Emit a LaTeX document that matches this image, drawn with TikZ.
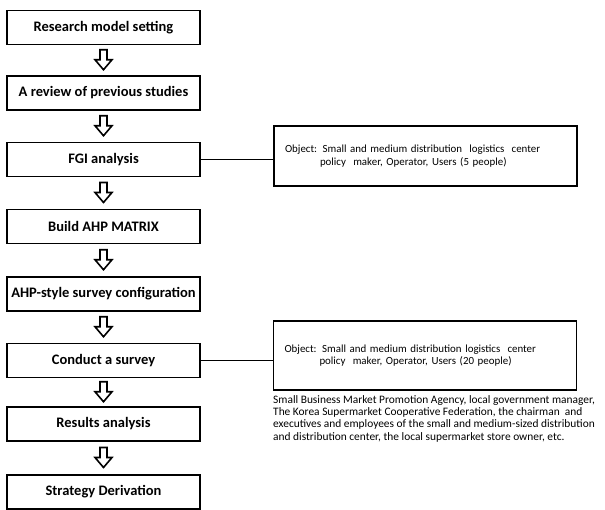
\documentclass[tikz,border=0pt]{standalone}
\usepackage{fontspec}
\setmainfont{Carlito}
\usetikzlibrary{calc}
\tikzset{
  stepbox/.style={draw, line width=1.6pt, minimum width=193pt, minimum height=34pt, inner sep=0pt,
    font=\bfseries\fontsize{14.5}{16}\selectfont},
  objbox/.style={draw, line width=1.4pt, minimum width=303pt, text width=281pt, inner xsep=11pt,
    align=left, font=\fontsize{10.9}{12.5}\selectfont},
  note/.style={align=left, inner sep=0pt, font=\fontsize{11.4}{12.4}\selectfont},
  link/.style={line width=1.2pt},
  hollow/.style={draw, line width=1.6pt, fill=white, line join=miter}
}
\newcommand{\downarrowshape}[2]{%
  \path ($(#1.south)!0.5!(#2.north)$) coordinate (m);
  \draw[hollow] ($(m)+(-3.5,-10.5)$) -- ($(m)+(3.5,-10.5)$) -- ($(m)+(3.5,-0.5)$) -- ($(m)+(8.5,-0.5)$)
     -- ($(m)+(0,9.5)$) -- ($(m)+(-8.5,-0.5)$) -- ($(m)+(-3.5,-0.5)$) -- cycle;
}
\begin{document}
\begin{tikzpicture}[x=1pt,y=-1pt]
\useasboundingbox (0,0) rectangle (605,510);
\node[stepbox] (s1) at (103.5,27.5) {Research model setting};
\node[stepbox] (s2) at (103.5,93) {A review of previous studies};
\node[stepbox] (s3) at (103.5,159.5) {FGI analysis};
\node[stepbox] (s4) at (103.5,226.5) {Build AHP MATRIX};
\node[stepbox] (s5) at (103.5,294) {AHP-style survey configuration};
\node[stepbox] (s6) at (103.5,360.5) {Conduct a survey};
\node[stepbox] (s7) at (103.5,424) {Results analysis};
\node[stepbox] (s8) at (103.5,492) {Strategy Derivation};

\downarrowshape{s1}{s2}
\downarrowshape{s2}{s3}
\downarrowshape{s3}{s4}
\downarrowshape{s4}{s5}
\downarrowshape{s5}{s6}
\downarrowshape{s6}{s7}
\downarrowshape{s7}{s8}

\node[objbox, minimum height=60pt] (o1) at (425.5,156) {Object: Small and medium distribution\ \ logistics\ \ center\\
\hspace*{35pt}policy\ \ maker, Operator, Users (5 people)\\[4pt]};
\node[objbox, minimum height=69pt] (o2) at (425,355.5) {Object: Small and medium distribution logistics\ \ center\\
\hspace*{35pt}policy\ \ maker, Operator, Users (20 people)\\[6pt]};

\draw[link] (s3.east) -- (s3.east -| o1.west);
\draw[link] (s6.east) -- (s6.east -| o2.west);

\node[note, anchor=north west] (n1) at (273,395) {Small Business Market Promotion Agency, local government manager,\\
The Korea Supermarket Cooperative Federation, the chairman\ \ and\\
executives and employees of the small and medium-sized distribution\\
and distribution center, the local supermarket store owner, etc.};
\end{tikzpicture}
\end{document}
